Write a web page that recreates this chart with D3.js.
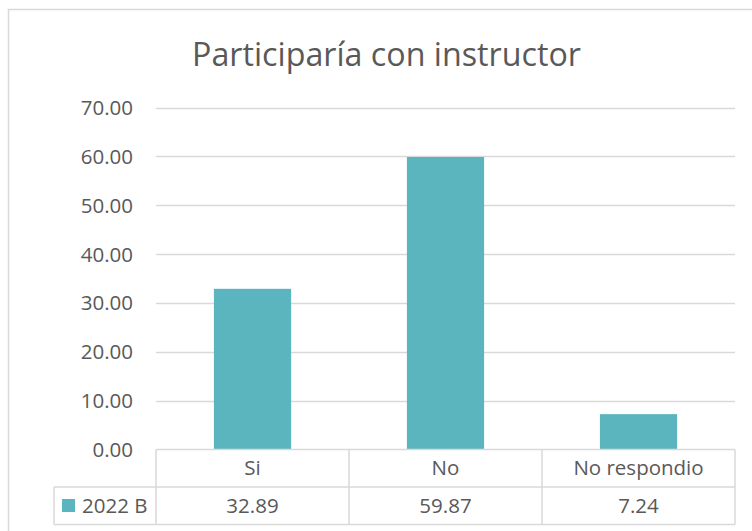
<!DOCTYPE html>
<html><head><meta charset="utf-8">
<script src="https://cdn.jsdelivr.net/npm/d3@7"></script>
<style>body{margin:0;background:#fff}svg{display:block}text{font-family:"Open Sans",sans-serif;fill:#595959}</style>
</head><body><svg id="c" width="752" height="531"></svg>
<script>
const title = "Participaría con instructor";
const categories = ["Si", "No", "No respondio"];
const seriesName = "2022 B";
const values = [32.89, 59.87, 7.24];
const yTicks = [0, 10, 20, 30, 40, 50, 60, 70];

const svg = d3.select("#c");
const color = "#5BB5BF", grid = "#D9D9D9";
const L = 156, R = 735, T = 107.5, B = 449.5;
const rowH = 37.5;

svg.append("rect").attr("x", 8.5).attr("y", 9.5).attr("width", 760).attr("height", 540)
  .attr("fill", "none").attr("stroke", "#D9D9D9").attr("stroke-width", 1.5);

const x = d3.scaleBand().domain(categories).range([L, R]).paddingInner(0.6).paddingOuter(0.3);
const xc = d3.scaleBand().domain(categories).range([L, R]);
const y = d3.scaleLinear().domain([0, 70]).range([B, T]);

// gridlines
svg.append("g").selectAll("line").data(yTicks.filter(d => d > 0)).join("line")
  .attr("x1", L).attr("x2", R).attr("y1", d => Math.round(y(d)) + 0.5).attr("y2", d => Math.round(y(d)) + 0.5)
  .attr("stroke", grid).attr("stroke-width", 1.3);

// y axis labels
const yAxis = d3.axisLeft(y).tickValues(yTicks).tickFormat(d3.format(".2f")).tickSize(0).tickPadding(23);
const ya = svg.append("g").attr("transform", `translate(${L},0)`).call(yAxis);
ya.select(".domain").remove();
ya.selectAll("text").style("font-size", "20.5px").attr("fill", "#595959").attr("dy", "0.34em");

// bars
svg.append("g").selectAll("rect").data(values).join("rect")
  .attr("x", (d, i) => x(categories[i])).attr("width", x.bandwidth())
  .attr("y", d => y(d)).attr("height", d => y(0) - y(d)).attr("fill", color);

// data table
const tg = svg.append("g").attr("stroke", grid).attr("stroke-width", 1.5);
tg.append("line").attr("x1", L).attr("x2", R).attr("y1", B).attr("y2", B);
tg.append("line").attr("x1", 54).attr("x2", R).attr("y1", B + rowH).attr("y2", B + rowH);
tg.append("line").attr("x1", 54).attr("x2", R).attr("y1", B + 2 * rowH).attr("y2", B + 2 * rowH);
tg.append("line").attr("x1", 54).attr("x2", 54).attr("y1", B + rowH).attr("y2", B + 2 * rowH);
tg.selectAll(".v").data(categories).join("line").attr("class", "v")
  .attr("x1", d => xc(d)).attr("x2", d => xc(d)).attr("y1", B).attr("y2", B + 2 * rowH);
tg.append("line").attr("x1", R).attr("x2", R).attr("y1", B).attr("y2", B + 2 * rowH);

svg.append("g").selectAll("text").data(categories).join("text")
  .attr("x", d => xc(d) + xc.bandwidth() / 2).attr("y", B + rowH / 2).attr("dy", "0.35em")
  .attr("text-anchor", "middle").style("font-size", "20.5px").text(d => d);
svg.append("g").selectAll("text").data(values).join("text")
  .attr("x", (d, i) => xc(categories[i]) + xc.bandwidth() / 2).attr("y", B + rowH * 1.5).attr("dy", "0.35em")
  .attr("text-anchor", "middle").style("font-size", "20.5px").text(d => d3.format(".2f")(d));

svg.append("rect").attr("x", 62).attr("y", 499).attr("width", 13).attr("height", 13).attr("fill", color);
svg.append("text").attr("x", 82).attr("y", B + rowH * 1.5).attr("dy", "0.35em")
  .style("font-size", "20.5px").text(seriesName);

// title
svg.append("text").attr("x", 192).attr("y", 66)
  .attr("textLength", 389).attr("lengthAdjust", "spacingAndGlyphs")
  .style("font-size", "33px").text(title);
</script></body></html>
